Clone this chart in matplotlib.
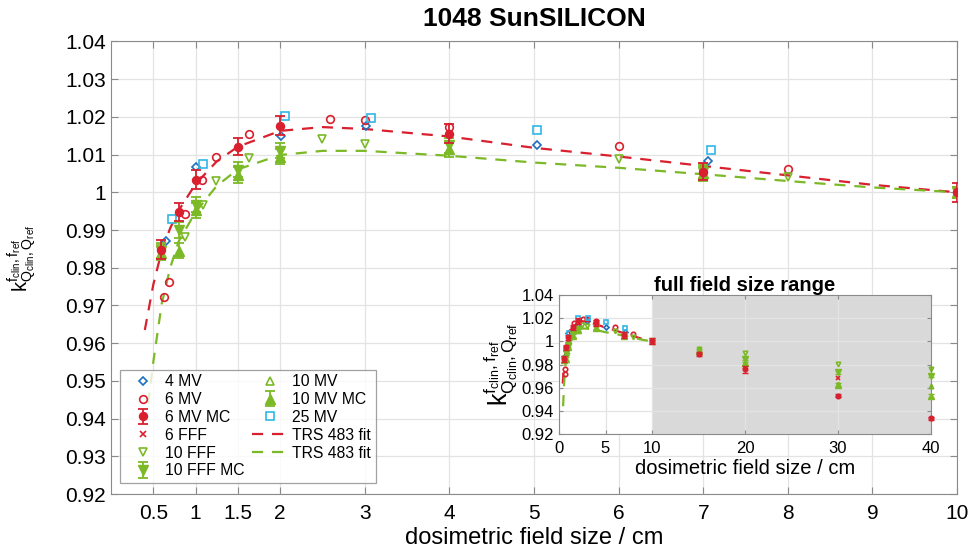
#!/usr/bin/env python3

import matplotlib
matplotlib.use("Agg")
import matplotlib.pyplot as plt
import numpy as np

plt.rcParams["font.family"] = ["Liberation Sans", "DejaVu Sans"]
plt.rcParams["mathtext.fontset"] = "custom"
plt.rcParams["mathtext.rm"] = "Liberation Sans"
plt.rcParams["mathtext.it"] = "Liberation Sans"

RED = "#d8202f"
GREEN = "#7cb926"
BLUE = "#1f6fc0"
CYAN = "#2fb8e8"

# 4 MV
mv4_x = [0.65, 1.0, 2.01, 3.02, 5.04, 7.06]
mv4_y = [0.9870, 1.0068, 1.0150, 1.0177, 1.0125, 1.0082]

# 6 MV
mv6_x = [0.625, 0.69, 0.87, 1.08, 1.24, 1.635, 2.59, 3.0, 4.0, 6.0, 8.0]
mv6_y = [0.9722, 0.9763, 0.9942, 1.0032, 1.0093, 1.0154, 1.0194, 1.0192, 1.0173, 1.0122, 1.0061]

# 6 MV MC
mv6mc_x = [0.59, 0.8, 1.0, 1.5, 2.0, 4.0, 7.0, 10.0, 15.0, 20.0, 30.0, 40.0]
mv6mc_y = [0.9848, 0.9948, 1.0034, 1.0121, 1.0177, 1.0155, 1.0055, 1.0000, 0.9890, 0.9758, 0.9531, 0.9335]
mv6mc_err = [0.0025, 0.0023, 0.0025, 0.0023, 0.0025, 0.0025, 0.0023, 0.0025, 0.0015, 0.0030, 0.0015, 0.0015]

# 6 FFF
fff6_x = [20.0, 30.0]
fff6_y = [0.9775, 0.9680]

# 10 FFF
fff10_x = [0.88, 1.09, 1.24, 1.635, 2.5, 3.0, 6.0, 8.0, 15.0, 20.0, 30.0, 40.0]
fff10_y = [0.9882, 0.9966, 1.0029, 1.0092, 1.0141, 1.0129, 1.0088, 1.0041, 0.9935, 0.9896, 0.9806, 0.9761]

# 10 FFF MC
fff10mc_x = [0.59, 0.8, 1.0, 1.5, 2.0, 4.0, 7.0, 10.0, 20.0, 30.0, 40.0]
fff10mc_y = [0.9845, 0.9900, 0.9967, 1.0060, 1.0110, 1.0125, 1.0055, 1.0000, 0.9850, 0.9734, 0.9704]
fff10mc_err = [0.0020, 0.0020, 0.0020, 0.0020, 0.0020, 0.0020, 0.0020, 0.0015, 0.0015, 0.0015, 0.0015]

# 10 MV
mv10_x = [15.0, 30.0, 40.0]
mv10_y = [0.9930, 0.9630, 0.9617]

# 10 MV MC
mv10mc_x = [0.59, 0.8, 1.0, 1.5, 2.0, 4.0, 7.0, 10.0, 15.0, 20.0, 30.0, 40.0]
mv10mc_y = [0.9840, 0.9845, 0.9953, 1.0046, 1.0095, 1.0115, 1.0050, 1.0000, 0.9915, 0.9810, 0.9623, 0.9528]
mv10mc_err = [0.0020, 0.0020, 0.0020, 0.0020, 0.0020, 0.0020, 0.0020, 0.0015, 0.0015, 0.0015, 0.0015, 0.0015]

# 25 MV
mv25_x = [0.72, 1.09, 2.06, 3.07, 5.04, 7.09]
mv25_y = [0.9930, 1.0074, 1.0202, 1.0198, 1.0166, 1.0113]

# TRS 483 fits
fit_red_x = [0.4, 0.5, 0.6, 0.7, 0.8, 1.0, 1.25, 1.5, 2.0, 2.5, 3.0, 4.0, 5.0, 6.0, 7.0, 8.0, 9.0, 10.0]
fit_red_y = [0.9635, 0.9755, 0.9845, 0.9905, 0.9952, 1.0022, 1.0082, 1.0121, 1.0163, 1.0173, 1.0168,
             1.0148, 1.0118, 1.0095, 1.0070, 1.0045, 1.0020, 1.0000]
fit_green_x = [0.44, 0.5, 0.6, 0.7, 0.8, 1.0, 1.25, 1.5, 2.0, 2.5, 3.0, 4.0, 5.0, 6.0, 7.0, 8.0, 9.0, 10.0]
fit_green_y = [0.944, 0.955, 0.9705, 0.980, 0.987, 0.9948, 1.0017, 1.0061, 1.0099, 1.011, 1.011,
               1.0097, 1.0079, 1.0065, 1.0048, 1.0030, 1.0013, 1.0000]

ylabel = r"$\mathrm{k}^{\mathrm{f_{clin}},\mathrm{f_{ref}}}_{\mathrm{Q_{clin}},\mathrm{Q_{ref}}}$"


def draw_data(ax, ms=5.5, cap=3.5, lw=1.3, clip=True):
    open_kw = dict(linestyle="none", markerfacecolor="none", markeredgewidth=1.2, markersize=ms,
                   clip_on=clip)
    mc_kw = dict(capsize=cap, elinewidth=lw, capthick=lw, clip_on=clip)
    h = {}
    h["fr"], = ax.plot(fit_red_x, fit_red_y, "--", color=RED, lw=1.6, dashes=(5, 4), zorder=2)
    h["fg"], = ax.plot(fit_green_x, fit_green_y, "--", color=GREEN, lw=1.6, dashes=(5, 4), zorder=2)
    h["4"], = ax.plot(mv4_x, mv4_y, marker="D", color=BLUE, **{**open_kw, "markersize": ms * 0.8})
    h["6"], = ax.plot(mv6_x, mv6_y, marker="o", color=RED, **open_kw)
    h["6mc"] = ax.errorbar(mv6mc_x, mv6mc_y, yerr=mv6mc_err, fmt="o", color=RED, ms=ms * 1.05,
                           zorder=4, **mc_kw)
    h["6f"], = ax.plot(fff6_x, fff6_y, marker="x", color=RED, linestyle="none", markersize=ms * 0.8,
                       markeredgewidth=1.2, clip_on=clip)
    h["10f"], = ax.plot(fff10_x, fff10_y, marker="v", color=GREEN, **open_kw)
    h["10fmc"] = ax.errorbar(fff10mc_x, fff10mc_y, yerr=fff10mc_err, fmt="v", color=GREEN,
                             ms=ms * 1.2, zorder=3, **mc_kw)
    h["10"], = ax.plot(mv10_x, mv10_y, marker="^", color=GREEN, **open_kw)
    h["10mc"] = ax.errorbar(mv10mc_x, mv10mc_y, yerr=mv10mc_err, fmt="^", color=GREEN,
                            ms=ms * 1.2, zorder=3, **mc_kw)
    h["25"], = ax.plot(mv25_x, mv25_y, marker="s", color=CYAN, **open_kw)
    return h


def style_axes(ax, tick_size):
    for spine in ax.spines.values():
        spine.set_color("#8a8a8a")
    ax.tick_params(direction="in", top=True, right=True, labelsize=tick_size,
                   color="#8a8a8a", length=5, width=0.8)
    ax.grid(True, color="#e3e3e3", linewidth=0.9)
    ax.set_axisbelow(True)


fig = plt.figure(figsize=(9.71, 5.54), dpi=100)
ax = fig.add_axes([0.1143, 0.1083, 0.8713, 0.8168])
h = draw_data(ax)
ax.set_xlim(0, 10)
ax.set_ylim(0.92, 1.04)
ax.set_xticks([0.5, 1, 1.5, 2, 3, 4, 5, 6, 7, 8, 9, 10])
ax.set_xticklabels(["0.5", "1", "1.5", "2", "3", "4", "5", "6", "7", "8", "9", "10"])
ax.set_yticks(np.arange(0.92, 1.0401, 0.01))
ax.set_yticklabels(["0.92", "0.93", "0.94", "0.95", "0.96", "0.97", "0.98", "0.99", "1",
                    "1.01", "1.02", "1.03", "1.04"])
style_axes(ax, 15)
ax.tick_params(axis="x", pad=7)
ax.set_xlabel("dosimetric field size / cm", fontsize=17, labelpad=3)
ax.set_ylabel(ylabel, fontsize=14.5, labelpad=4)
ax.yaxis.set_label_coords(-0.085, 0.52)
ax.set_title("1048 SunSILICON", fontsize=19, fontweight="bold", pad=11)

order = ["4", "6", "6mc", "6f", "10f", "10fmc", "10", "10mc", "25", "fr", "fg"]
labels = ["4 MV", "6 MV", "6 MV MC", "6 FFF", "10 FFF", "10 FFF MC", "10 MV", "10 MV MC",
          "25 MV", "TRS 483 fit", "TRS 483 fit"]
leg = ax.legend([h[k] for k in order], labels, ncol=2, loc="lower left",
                bbox_to_anchor=(0.0106, 0.024), fontsize=11.3, frameon=True, fancybox=False,
                edgecolor="#8a8a8a", borderpad=0.3, labelspacing=0.18, handlelength=2.3,
                handletextpad=0.25, columnspacing=0.5, borderaxespad=0.0)
leg.get_frame().set_linewidth(0.9)
leg.set_zorder(10)

# inset with the full field size range
axi = fig.add_axes([0.5757, 0.2166, 0.3831, 0.2509])
axi.axvspan(10, 40, color="#d9d9d9", zorder=0, lw=0)
draw_data(axi, ms=3.2, cap=2.0, lw=1.0, clip=False)
axi.set_xlim(0, 40)
axi.set_ylim(0.92, 1.04)
axi.set_xticks([0, 5, 10, 20, 30, 40])
axi.set_yticks(np.arange(0.92, 1.0401, 0.02))
axi.set_yticklabels(["0.92", "0.94", "0.96", "0.98", "1", "1.02", "1.04"])
style_axes(axi, 12)
axi.tick_params(length=3)
axi.tick_params(axis="x", pad=5)
axi.set_xlabel("dosimetric field size / cm", fontsize=14.5, labelpad=2)
axi.set_ylabel(ylabel, fontsize=18, labelpad=1)
axi.set_title("full field size range", fontsize=14.5, fontweight="bold", pad=3)

fig.savefig("out.png", dpi=100)
